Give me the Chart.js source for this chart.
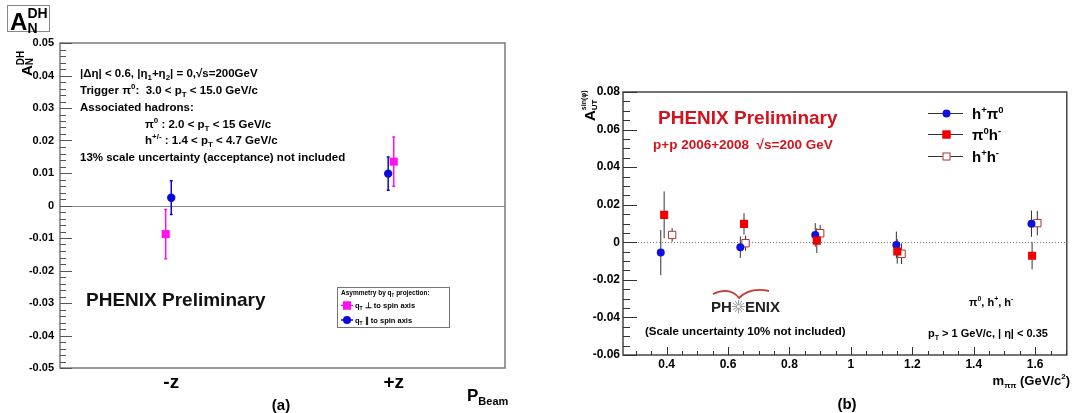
<!DOCTYPE html>
<html>
<head>
<meta charset="utf-8">
<script src="https://cdn.jsdelivr.net/npm/chart.js@4.4.1/dist/chart.umd.min.js"></script>
<style>
html, body { margin: 0; padding: 0; background: #fff; }
#wrap { position: relative; width: 1073px; height: 413px; overflow: hidden; }
canvas { position: absolute; top: 0; }
#ca { left: 0; }
#cb { left: 540px; }
</style>
</head>
<body>
<div id="wrap">
  <canvas id="ca" width="536" height="413"></canvas>
  <canvas id="cb" width="533" height="413"></canvas>
</div>
<script>
// (a) asymmetry vs beam polarisation direction
var sides = ['-z', '+z'];
var perpX = [0.475, 1.5];
var perpY = [-0.0088, 0.0135];
var perpErr = [0.0076, 0.0076];
var paraX = [0.5, 1.475];
var paraY = [0.0024, 0.0098];
var paraErr = [0.0052, 0.0051];

// (b) asymmetry vs pair mass
var massTicks = [0.4, 0.6, 0.8, 1, 1.2, 1.4, 1.6];
var hpi0X = [0.381, 0.640, 0.884, 1.148, 1.588];
var hpi0Y = [-0.0055, -0.0026, 0.0039, -0.0014, 0.0099];
var hpi0Err = [0.012, 0.0057, 0.0063, 0.0071, 0.007];
var pi0hX = [0.392, 0.652, 0.889, 1.151, 1.590];
var pi0hY = [0.0146, 0.0098, 0.0009, -0.0049, -0.0072];
var pi0hErr = [0.0125, 0.0057, 0.0066, 0.0065, 0.0072];
var hhX = [0.418, 0.657, 0.900, 1.165, 1.607];
var hhY = [0.0039, -0.0005, 0.0048, -0.0061, 0.0102];
var hhErr = [0.0036, 0.004, 0.0045, 0.0055, 0.0065];

var FONT = "'Liberation Sans', Arial, sans-serif";
Chart.defaults.font.family = FONT;
Chart.defaults.font.weight = 'bold';
Chart.defaults.color = '#000';

var noGrid = { display: false, drawTicks: false, tickLength: 0 };

function pts(xs, ys) {
  return xs.map(function (x, i) { return { x: x, y: ys[i] }; });
}

function numLabel(v) {
  if (Math.abs(v) < 1e-9) return '0';
  return String(+v.toFixed(3));
}

// text with sub/superscripts: parts = [text, size, dy, stackOnPrevious]
function rich(ctx, x, y, parts, color, align) {
  ctx.save();
  ctx.fillStyle = color || '#000';
  ctx.textAlign = 'left';
  ctx.textBaseline = 'alphabetic';
  var pos = [], cx = 0, prevStart = 0, prevEnd = 0;
  parts.forEach(function (p) {
    ctx.font = 'bold ' + p[1] + 'px ' + FONT;
    var w = ctx.measureText(p[0]).width;
    var start = p[3] ? prevStart : cx;
    var end = start + w;
    pos.push(start);
    cx = p[3] ? Math.max(prevEnd, end) : end;
    prevStart = start; prevEnd = end;
  });
  var x0 = align === 'right' ? x - cx : (align === 'center' ? x - cx / 2 : x);
  parts.forEach(function (p, i) {
    ctx.font = 'bold ' + p[1] + 'px ' + FONT;
    ctx.fillText(p[0], x0 + pos[i], y + (p[2] || 0));
  });
  ctx.restore();
}

function drawErrors(chart) {
  var ctx = chart.ctx, xs = chart.scales.x, ys = chart.scales.y;
  chart.data.datasets.forEach(function (ds) {
    ctx.save();
    ctx.strokeStyle = ds.errColor;
    ctx.lineWidth = ds.errWidth;
    ds.data.forEach(function (p, i) {
      var px = xs.getPixelForValue(p.x);
      var y1 = ys.getPixelForValue(p.y + ds.errors[i]);
      var y2 = ys.getPixelForValue(p.y - ds.errors[i]);
      ctx.beginPath();
      ctx.moveTo(px, y1); ctx.lineTo(px, y2);
      if (ds.cap) {
        ctx.moveTo(px - ds.cap, y1); ctx.lineTo(px + ds.cap, y1);
        ctx.moveTo(px - ds.cap, y2); ctx.lineTo(px + ds.cap, y2);
      }
      ctx.stroke();
    });
    ctx.restore();
  });
}

function yTicks(ctx, chart, step, every, len, minorLen) {
  var ys = chart.scales.y, a = chart.chartArea;
  var n0 = Math.ceil(ys.min / step - 1e-6), n1 = Math.floor(ys.max / step + 1e-6);
  ctx.beginPath();
  for (var k = n0; k <= n1; k++) {
    var py = Math.round(ys.getPixelForValue(k * step)) + 0.5;
    ctx.moveTo(a.left, py);
    ctx.lineTo(a.left + (k % every === 0 ? len : minorLen), py);
  }
  ctx.stroke();
}

function xTicks(ctx, chart, step, every, len, minorLen) {
  var xs = chart.scales.x, a = chart.chartArea;
  var n0 = Math.ceil(xs.min / step - 1e-6), n1 = Math.floor(xs.max / step + 1e-6);
  ctx.beginPath();
  for (var k = n0; k <= n1; k++) {
    var px = Math.round(xs.getPixelForValue(k * step)) + 0.5;
    ctx.moveTo(px, a.bottom);
    ctx.lineTo(px, a.bottom - (k % every === 0 ? len : minorLen));
  }
  ctx.stroke();
}

function marker(ctx, style, x, y, fill, stroke) {
  ctx.save();
  ctx.fillStyle = fill;
  ctx.strokeStyle = stroke;
  ctx.lineWidth = 1;
  if (style === 'circle') {
    ctx.beginPath(); ctx.arc(x, y, 4, 0, Math.PI * 2); ctx.fill();
  } else {
    ctx.fillRect(x - 4, y - 4, 8, 8);
    ctx.strokeRect(x - 3.5, y - 3.5, 7, 7);
  }
  ctx.restore();
}

// ---------- panel (a) ----------
var decoA = {
  id: 'decoA',
  beforeDatasetsDraw: function (chart) {
    var ctx = chart.ctx, a = chart.chartArea, ys = chart.scales.y;
    ctx.save();
    ctx.strokeStyle = '#8a8a8a';
    ctx.lineWidth = 1;
    var y0 = Math.round(ys.getPixelForValue(0)) + 0.5;
    ctx.beginPath(); ctx.moveTo(a.left, y0); ctx.lineTo(a.right, y0); ctx.stroke();
    ctx.restore();
    drawErrors(chart);
  },
  afterDraw: function (chart) {
    var ctx = chart.ctx, a = chart.chartArea;
    ctx.save();
    ctx.strokeStyle = '#7a7a7a';
    ctx.lineWidth = 1.5;
    ctx.strokeRect(a.left, a.top, a.width, a.height);
    ctx.lineWidth = 1;
    ctx.strokeStyle = '#555';
    yTicks(ctx, chart, 0.002, 5, 12, 6);

    // boxed title
    ctx.strokeStyle = '#888';
    ctx.strokeRect(7.5, 5.5, 42, 26);
    rich(ctx, 10, 30, [['A', 24]]);
    rich(ctx, 27.5, 18, [['DH', 14]]);
    rich(ctx, 27.5, 33, [['N', 14]]);

    // rotated y title
    ctx.save();
    ctx.translate(32, 76);
    ctx.rotate(-Math.PI / 2);
    rich(ctx, 0, 0, [['A', 15], ['N', 10, 1], ['DH', 10, -8, true]]);
    ctx.restore();

    // kinematics block
    var fs = 11.5, sb = 8;
    rich(ctx, 80, 77, [['|\u0394\u03b7| < 0.6, |\u03b7', fs], ['1', sb, 3], ['+\u03b7', fs], ['2', sb, 3], ['| = 0,\u221as=200GeV', fs]]);
    rich(ctx, 80, 94, [['Trigger \u03c0', fs], ['0', sb, -5], [':  3.0 < p', fs], ['T', sb, 3], [' < 15.0 GeV/c', fs]]);
    rich(ctx, 80, 111, [['Associated hadrons:', fs]]);
    rich(ctx, 145, 127.5, [['\u03c0', fs], ['0', sb, -5], [' : 2.0 < p', fs], ['T', sb, 3], [' < 15 GeV/c', fs]]);
    rich(ctx, 145, 144, [['h', fs], ['+/-', sb, -5], [' : 1.4 < p', fs], ['T', sb, 3], [' < 4.7 GeV/c', fs]]);
    rich(ctx, 80, 160.5, [['13% scale uncertainty (acceptance) not included', fs]]);

    rich(ctx, 86, 306, [['PHENIX Preliminary', 19]], '#111');

    // legend box
    ctx.strokeStyle = '#777';
    ctx.lineWidth = 1;
    ctx.strokeRect(337.5, 287.5, 112, 40);
    rich(ctx, 341, 295, [['Asymmetry by q', 6.5], ['T', 4.5, 2], [' projection:', 6.5]]);
    var entries = [
      { ds: chart.data.datasets[0], y: 305.5, sym: '\u22a5' },
      { ds: chart.data.datasets[1], y: 320, sym: '\u2225' }
    ];
    entries.forEach(function (e) {
      ctx.strokeStyle = e.ds.errColor;
      ctx.lineWidth = 1.5;
      ctx.beginPath(); ctx.moveTo(341, e.y); ctx.lineTo(353, e.y); ctx.stroke();
      marker(ctx, e.ds.pointStyle === 'circle' ? 'circle' : 'rect', 347, e.y, e.ds.backgroundColor, e.ds.backgroundColor);
      rich(ctx, 355, e.y + 2.5, [['q', 7.5], ['T', 5, 2], [' ' + e.sym + ' to spin axis', 7.5]]);
    });

    rich(ctx, 281, 410, [['(a)', 15]], '#000', 'center');
    rich(ctx, 467, 401, [['P', 17], ['Beam', 11, 4]]);
    ctx.restore();
  }
};

new Chart(document.getElementById('ca'), {
  type: 'scatter',
  data: {
    datasets: [
      {
        label: 'qT perp', data: pts(perpX, perpY), errors: perpErr,
        pointStyle: 'rect', pointRadius: 5.7, borderWidth: 0,
        backgroundColor: '#ff10f0', borderColor: '#ff10f0',
        errColor: '#ff10f0', errWidth: 1.5, cap: 1.5
      },
      {
        label: 'qT para', data: pts(paraX, paraY), errors: paraErr,
        pointStyle: 'circle', pointRadius: 4.2, borderWidth: 0,
        backgroundColor: '#0a0ad8', borderColor: '#0a0ad8',
        errColor: '#0a0ad8', errWidth: 1.5, cap: 1.5
      }
    ]
  },
  options: {
    responsive: false,
    animation: false,
    events: [],
    layout: { padding: { left: 0, top: 43, right: 31, bottom: 15 } },
    plugins: { legend: { display: false }, tooltip: { enabled: false } },
    scales: {
      x: {
        type: 'linear', min: 0, max: sides.length,
        grid: noGrid, border: { display: false },
        afterFit: function (s) { s.height = 30; },
        afterBuildTicks: function (s) {
          s.ticks = sides.map(function (c, i) { return { value: i + 0.5 }; });
        },
        ticks: {
          autoSkip: false, maxRotation: 0, padding: 3,
          font: { size: 19, weight: 'bold' }, color: '#000',
          callback: function (v) { return sides[Math.round(v - 0.5)]; }
        }
      },
      y: {
        min: -0.05, max: 0.05,
        grid: noGrid, border: { display: false },
        afterFit: function (s) { s.width = 60; },
        ticks: {
          stepSize: 0.01, padding: 6, autoSkip: false,
          font: { size: 11, weight: 'bold' }, color: '#000',
          callback: numLabel
        }
      }
    }
  },
  plugins: [decoA]
});

// ---------- panel (b) ----------
var OX = 540;
var decoB = {
  id: 'decoB',
  beforeDatasetsDraw: function (chart) {
    var ctx = chart.ctx, a = chart.chartArea, ys = chart.scales.y;
    ctx.save();
    ctx.strokeStyle = '#777';
    ctx.lineWidth = 1;
    ctx.setLineDash([1, 2]);
    var y0 = Math.round(ys.getPixelForValue(0)) + 0.5;
    ctx.beginPath(); ctx.moveTo(a.left, y0); ctx.lineTo(a.right, y0); ctx.stroke();
    ctx.restore();
    drawErrors(chart);
  },
  afterDraw: function (chart) {
    var ctx = chart.ctx, a = chart.chartArea;
    ctx.save();
    ctx.strokeStyle = '#444';
    ctx.lineWidth = 1.5;
    ctx.strokeRect(a.left, a.top, a.width, a.height);
    ctx.lineWidth = 1;
    ctx.strokeStyle = '#333';
    yTicks(ctx, chart, 0.005, 4, 14, 7);
    xTicks(ctx, chart, 0.05, 4, 8, 4);

    // rotated y title
    ctx.save();
    ctx.translate(595 - OX, 121);
    ctx.rotate(-Math.PI / 2);
    rich(ctx, 0, 0, [['A', 15], ['UT', 8, 2], ['sin(\u03c6)', 7, -9, true]]);
    ctx.restore();

    var red = '#d3141e';
    rich(ctx, 658 - OX, 123.5, [['PHENIX Preliminary', 19]], red);
    rich(ctx, 653 - OX, 149, [['p+p 2006+2008  \u221as=200 GeV', 13.5]], red);

    // legend
    var labels = [
      [['h', 15], ['+', 9.5, -6], ['\u03c0', 15], ['0', 9.5, -6]],
      [['\u03c0', 15], ['0', 9.5, -6], ['h', 15], ['-', 9.5, -6]],
      [['h', 15], ['+', 9.5, -6], ['h', 15], ['-', 9.5, -6]]
    ];
    var ly = [113, 134, 156];
    chart.data.datasets.forEach(function (ds, i) {
      ctx.strokeStyle = '#333';
      ctx.lineWidth = 1;
      ctx.beginPath(); ctx.moveTo(928 - OX, ly[i] + 0.5); ctx.lineTo(963 - OX, ly[i] + 0.5); ctx.stroke();
      marker(ctx, ds.pointStyle === 'circle' ? 'circle' : 'rect', 946.5 - OX, ly[i] + 0.5, ds.backgroundColor, ds.borderColor);
      rich(ctx, 972 - OX, ly[i] + 5.5, labels[i]);
    });

    // PHENIX logo
    ctx.strokeStyle = '#c23a30';
    ctx.lineWidth = 1.8;
    ctx.beginPath();
    ctx.moveTo(713 - OX, 294);
    ctx.quadraticCurveTo(730 - OX, 286, 739 - OX, 298);
    ctx.quadraticCurveTo(750 - OX, 287, 769 - OX, 291);
    ctx.stroke();
    rich(ctx, 711 - OX, 312, [['PH', 15]], '#222');
    rich(ctx, 745 - OX, 312, [['ENIX', 15]], '#222');
    ctx.strokeStyle = '#9a9a9a';
    ctx.lineWidth = 1;
    ctx.beginPath();
    for (var k = 0; k < 12; k++) {
      var ang = k * Math.PI / 6;
      ctx.moveTo(738.5 - OX + Math.cos(ang) * 1.5, 306.5 + Math.sin(ang) * 1.5);
      ctx.lineTo(738.5 - OX + Math.cos(ang) * 6.5, 306.5 + Math.sin(ang) * 6.5);
    }
    ctx.stroke();

    rich(ctx, 645 - OX, 335, [['(Scale uncertainty 10% not included)', 11.5]]);
    rich(ctx, 969 - OX, 306, [['\u03c0', 11], ['0', 7, -5], [', h', 11], ['+', 7, -5], [', h', 11], ['-', 7, -5]]);
    rich(ctx, 928 - OX, 337, [['p', 11], ['T', 7, 3], [' > 1 GeV/c, | \u03b7| < 0.35', 11]]);
    rich(ctx, 1070 - OX, 385, [['m', 13], ['\u03c0\u03c0', 8, 3], [' (GeV/c', 13], ['2', 8, -6], [')', 13]], '#000', 'right');
    rich(ctx, 847 - OX, 409, [['(b)', 15]], '#000', 'center');
    ctx.restore();
  }
};

new Chart(document.getElementById('cb'), {
  type: 'scatter',
  data: {
    datasets: [
      {
        label: 'h+pi0', data: pts(hpi0X, hpi0Y), errors: hpi0Err, order: 1,
        pointStyle: 'circle', pointRadius: 4, borderWidth: 0,
        backgroundColor: '#1010e0', borderColor: '#1010e0',
        errColor: '#333', errWidth: 1
      },
      {
        label: 'pi0h-', data: pts(pi0hX, pi0hY), errors: pi0hErr, order: 0,
        pointStyle: 'rect', pointRadius: 5.7, borderWidth: 0,
        backgroundColor: '#f00000', borderColor: '#f00000',
        errColor: '#333', errWidth: 1
      },
      {
        label: 'h+h-', data: pts(hhX, hhY), errors: hhErr, order: 2,
        pointStyle: 'rect', pointRadius: 5.2, borderWidth: 1,
        backgroundColor: '#ffffff', borderColor: '#a83232',
        errColor: '#333', errWidth: 1
      }
    ]
  },
  options: {
    responsive: false,
    animation: false,
    events: [],
    layout: { padding: { left: 0, top: 92, right: 3, bottom: 38 } },
    plugins: { legend: { display: false }, tooltip: { enabled: false } },
    scales: {
      x: {
        type: 'linear', min: 0.258, max: 1.703,
        grid: noGrid, border: { display: false },
        afterFit: function (s) { s.height = 20; },
        afterBuildTicks: function (s) {
          s.ticks = massTicks.map(function (v) { return { value: v }; });
        },
        ticks: {
          autoSkip: false, maxRotation: 0, padding: 2,
          font: { size: 12, weight: 'bold' }, color: '#000',
          callback: numLabel
        }
      },
      y: {
        min: -0.06, max: 0.08,
        grid: noGrid, border: { display: false },
        afterFit: function (s) { s.width = 83; },
        ticks: {
          stepSize: 0.02, padding: 3, autoSkip: false,
          font: { size: 12, weight: 'bold' }, color: '#000',
          callback: numLabel
        }
      }
    }
  },
  plugins: [decoB]
});
</script>
</body>
</html>
